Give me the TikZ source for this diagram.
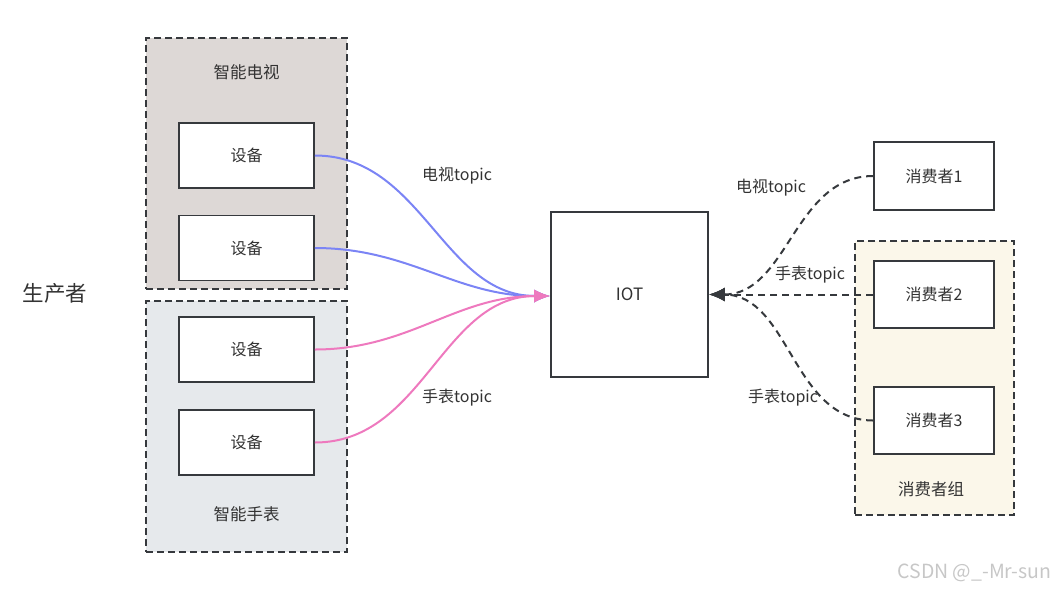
\documentclass[tikz,border=0pt]{standalone}
\usepackage{fontspec}
\setmainfont{Noto Sans CJK SC}
\usetikzlibrary{arrows.meta, positioning}
\definecolor{linegray}{HTML}{36393D}
\definecolor{textgray}{HTML}{333333}
\definecolor{tvfill}{HTML}{DDD8D6}
\definecolor{watchfill}{HTML}{E6E9EC}
\definecolor{groupfill}{HTML}{FBF7EA}
\definecolor{tvblue}{HTML}{7B84F5}
\definecolor{watchpink}{HTML}{EE79BE}
\tikzstyle{group} = [draw=linegray, rectangle, line width=1.8pt, dash pattern=on 7pt off 4pt, inner sep=0pt]
\tikzstyle{block} = [draw=linegray, fill=white, rectangle, line width=1.8pt, text=textgray, font=\fontsize{16}{18}\selectfont]
\tikzstyle{lbl} = [text=textgray, font=\fontsize{16}{18}\selectfont]
\tikzstyle{pub} = [-{Latex[length=16pt,width=13pt]}, line width=2pt]
\tikzstyle{sub} = [-{Latex[length=16pt,width=14pt]}, draw=linegray, line width=2pt, dash pattern=on 7pt off 5pt]

\begin{document}
\begin{tikzpicture}[x=1pt,y=-1pt]
  \useasboundingbox (0,0) rectangle (1056,590);
  % groups
  \node[group, fill=tvfill, minimum width=201pt, minimum height=251pt] (tv) at (246.5,163.5) {};
  \node[group, fill=watchfill, minimum width=201pt, minimum height=251pt] (watch) at (246.5,426.5) {};
  \node[group, fill=groupfill, minimum width=159pt, minimum height=274pt] (cgroup) at (934.5,378) {};
  \node[lbl, font=\fontsize{16.5}{18}\selectfont] (tvname) at (246.5,72) {智能电视};
  \node[lbl, font=\fontsize{16.5}{18}\selectfont] (watchname) at (246.5,514) {智能手表};
  \node[lbl, font=\fontsize{16.5}{18}\selectfont] (cgroupname) at (931,489) {消费者组};
  \node[lbl, font=\fontsize{21.5}{24}\selectfont] (producer) at (55,293) {生产者};

  % devices
  \node[block, minimum width=135pt, minimum height=65pt] (tvA) at (246.5,155.5) {设备};
  \node[block, minimum width=135pt, minimum height=65pt] (tvB) at (246.5,248) {设备};
  \node[block, minimum width=135pt, minimum height=65pt] (watchA) at (246.5,349.5) {设备};
  \node[block, minimum width=135pt, minimum height=65pt] (watchB) at (246.5,442.5) {设备};
  \node[block, minimum width=157pt, minimum height=165pt, font=\fontsize{17}{19}\selectfont] (iot) at (629.5,294.5) {IOT};
  \node[block, minimum width=120pt, minimum height=68pt] (consA) at (934,176) {消费者1};
  \node[block, minimum width=120pt, minimum height=67pt] (consB) at (934,294.5) {消费者2};
  \node[block, minimum width=120pt, minimum height=67pt] (consC) at (934,420.5) {消费者3};

  % topic labels
  \node[lbl] (tvtopic) at (457,176) {电视topic};
  \node[lbl] (watchtopic) at (457,398) {手表topic};
  \node[lbl] (tvtopicR) at (771,188) {电视topic};
  \node[lbl] (watchtopicB) at (810,275) {手表topic};
  \node[lbl] (watchtopicC) at (783,398) {手表topic};

  \coordinate (iotin) at ([yshift=-1.5pt]iot.west);
  \coordinate (iotout) at (iot.east);
  \draw[pub, tvblue] (tvA.east) to[out=0,in=180] (iotin);
  \draw[pub, tvblue] (tvB.east) to[out=0,in=180] (iotin);
  \draw[pub, watchpink] (watchA.east) to[out=0,in=180] (iotin);
  \draw[pub, watchpink] (watchB.east) to[out=0,in=180] (iotin);
  \draw[sub] (consA.west) to[out=180,in=0] (iotout);
  \draw[sub] (consB.west) -- (iotout);
  \draw[sub] (consC.west) to[out=180,in=0] (iotout);

  \node[text=black!22, font=\fontsize{19.5}{21}\selectfont] (mark) at (974.5,573) {CSDN @\_-Mr-sun};
\end{tikzpicture}
\end{document}
